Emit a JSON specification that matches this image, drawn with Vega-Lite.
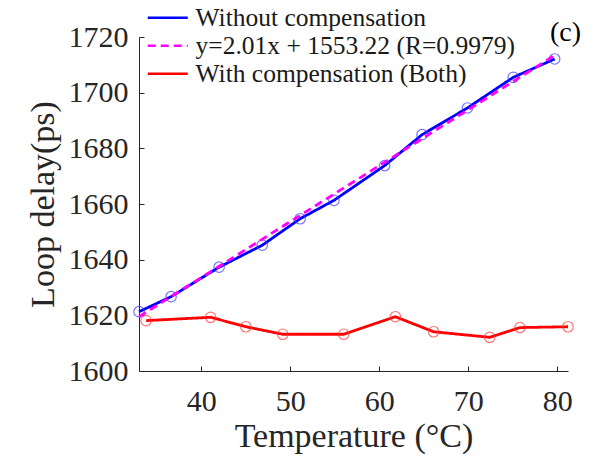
{
  "$schema": "https://vega.github.io/schema/vega-lite/v6.json",
  "autosize": {"type": "none"},
  "width": 429,
  "height": 334,
  "padding": {"left": 139, "top": 37, "right": 40, "bottom": 87},
  "background": "white",
  "title": {
    "text": "(c)",
    "anchor": "end",
    "orient": "top",
    "frame": "group",
    "font": "Liberation Serif",
    "fontSize": 28,
    "fontWeight": "normal",
    "color": "black",
    "dx": 13,
    "dy": 33,
    "offset": -9
  },
  "datasets": {
    "meas": [
      {"s": "Without compensation", "t": 33.0, "d": 1621.3},
      {"s": "Without compensation", "t": 36.6, "d": 1626.7},
      {"s": "Without compensation", "t": 42.0, "d": 1637.3},
      {"s": "Without compensation", "t": 46.85, "d": 1645.2},
      {"s": "Without compensation", "t": 51.1, "d": 1654.7},
      {"s": "Without compensation", "t": 54.9, "d": 1661.3},
      {"s": "Without compensation", "t": 60.6, "d": 1673.8},
      {"s": "Without compensation", "t": 64.8, "d": 1684.9},
      {"s": "Without compensation", "t": 69.9, "d": 1694.5},
      {"s": "Without compensation", "t": 75.05, "d": 1705.5},
      {"s": "Without compensation", "t": 79.7, "d": 1712.1},
      {"s": "With compensation (Both)", "t": 33.8, "d": 1618.1},
      {"s": "With compensation (Both)", "t": 41.05, "d": 1619.3},
      {"s": "With compensation (Both)", "t": 45.0, "d": 1615.9},
      {"s": "With compensation (Both)", "t": 49.15, "d": 1613.2},
      {"s": "With compensation (Both)", "t": 56.0, "d": 1613.2},
      {"s": "With compensation (Both)", "t": 61.8, "d": 1619.5},
      {"s": "With compensation (Both)", "t": 66.1, "d": 1614.1},
      {"s": "With compensation (Both)", "t": 72.4, "d": 1612.1},
      {"s": "With compensation (Both)", "t": 75.8, "d": 1615.6},
      {"s": "With compensation (Both)", "t": 81.2, "d": 1615.9}
    ],
    "fit": [
      {"s": "y=2.01x + 1553.22 (R=0.9979)", "t": 33.0, "d": 1619.5},
      {"s": "y=2.01x + 1553.22 (R=0.9979)", "t": 79.7, "d": 1713.4}
    ]
  },
  "config": {
    "font": "Liberation Serif",
    "view": {"stroke": null},
    "axis": {
      "grid": false,
      "domainColor": "#262626",
      "domainWidth": 1,
      "tickColor": "#262626",
      "tickSize": -5,
      "labelFont": "Liberation Serif",
      "labelFontSize": 30,
      "labelColor": "#262626",
      "titleFont": "Liberation Serif",
      "titleFontSize": 34,
      "titleFontWeight": "normal",
      "titleColor": "#262626"
    },
    "legend": {
      "labelFont": "Liberation Serif",
      "labelLimit": 0
    }
  },
  "encoding": {
    "x": {
      "field": "t",
      "type": "quantitative",
      "scale": {"domain": [33, 81.2], "nice": false, "zero": false},
      "axis": {"title": "Temperature (°C)", "values": [40, 50, 60, 70, 80], "format": "d", "labelPadding": 20, "titlePadding": 3}
    },
    "y": {
      "field": "d",
      "type": "quantitative",
      "scale": {"domain": [1600, 1720], "nice": false, "zero": false},
      "axis": {"title": "Loop delay(ps)", "values": [1600, 1620, 1640, 1660, 1680, 1700, 1720], "format": "d", "labelPadding": 16, "titlePadding": 8}
    }
  },
  "layer": [
    {
      "data": {"name": "meas"},
      "mark": {"type": "line", "strokeWidth": 2.8, "clip": false},
      "encoding": {
        "color": {
          "field": "s",
          "type": "nominal",
          "scale": {
            "domain": ["Without compensation", "y=2.01x + 1553.22 (R=0.9979)", "With compensation (Both)"],
            "range": ["#0000ff", "#ff00ff", "#ff0000"]
          },
          "legend": {
            "title": null,
            "orient": "none",
            "legendX": 16,
            "legendY": -32,
            "symbolType": "M-2,0H2",
            "symbolSize": 400,
            "symbolStrokeWidth": 2.5,
            "labelFontSize": 25.5,
            "labelColor": "#1a1a1a",
            "labelLimit": 0,
            "labelOffset": 15,
            "rowPadding": 1,
            "padding": 0
          }
        },
        "strokeDash": {
          "field": "s",
          "type": "nominal",
          "scale": {
            "domain": ["Without compensation", "y=2.01x + 1553.22 (R=0.9979)", "With compensation (Both)"],
            "range": [[1, 0], [8, 5], [1, 0]]
          },
          "legend": {
            "title": null,
            "orient": "none",
            "legendX": 16,
            "legendY": -32,
            "symbolType": "M-2,0H2",
            "symbolSize": 400,
            "symbolStrokeWidth": 2.5,
            "labelFontSize": 25.5,
            "labelColor": "#1a1a1a",
            "labelLimit": 0,
            "labelOffset": 15,
            "rowPadding": 1,
            "padding": 0
          }
        }
      }
    },
    {
      "data": {"name": "meas"},
      "transform": [{"filter": "datum.s === 'Without compensation'"}],
      "mark": {"type": "point", "filled": false, "shape": "circle", "size": 110, "strokeWidth": 1.2, "color": "#3a3aff", "clip": false}
    },
    {
      "data": {"name": "fit"},
      "mark": {"type": "line", "strokeWidth": 2.8, "clip": false},
      "encoding": {
        "color": {"field": "s", "type": "nominal"},
        "strokeDash": {"field": "s", "type": "nominal"}
      }
    },
    {
      "data": {"name": "meas"},
      "transform": [{"filter": "datum.s === 'With compensation (Both)'"}],
      "mark": {"type": "point", "filled": false, "shape": "circle", "size": 110, "strokeWidth": 1.2, "color": "#ff3a3a", "clip": false}
    }
  ]
}
